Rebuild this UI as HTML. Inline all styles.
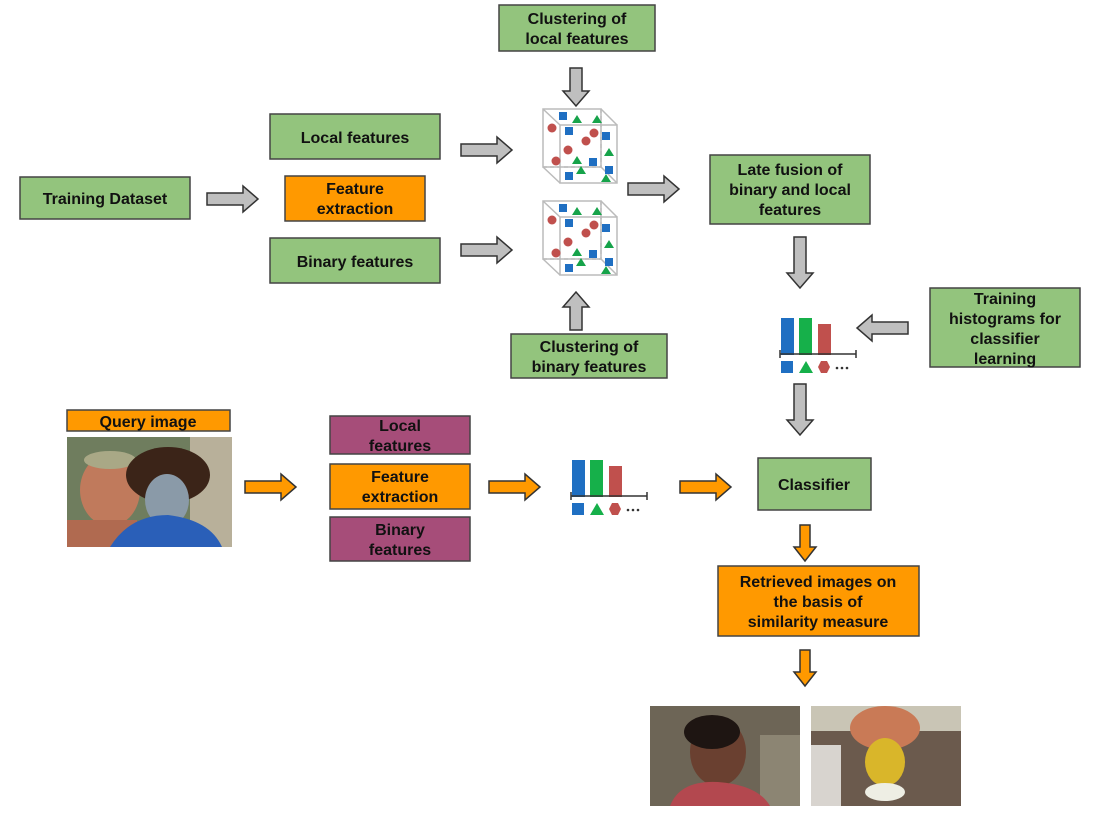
<!DOCTYPE html>
<html><head><meta charset="utf-8"><style>
body{margin:0;background:#fff;}
svg{display:block}
text{font-family:"Liberation Sans",sans-serif;font-weight:bold;font-size:16px;fill:#111;text-anchor:middle}
</style></head><body>
<svg width="1096" height="816" viewBox="0 0 1096 816" xmlns="http://www.w3.org/2000/svg">
<defs>
<g id="cube">
<rect x="543" y="109" width="58" height="58" fill="#fff" stroke="#bbb" stroke-width="1.5"/>
<line x1="601" y1="109" x2="601" y2="167" stroke="#bbb" stroke-width="1.5" stroke-dasharray="4,3"/>
<line x1="543" y1="167" x2="601" y2="167" stroke="#bbb" stroke-width="1.5" stroke-dasharray="4,3"/>
<rect x="560" y="125" width="57" height="58" fill="none" stroke="#bbb" stroke-width="1.5"/>
<path d="M543 109L560 125M601 109L617 125M543 167L560 183M601 167L617 183" stroke="#bbb" stroke-width="1.5"/>
<g fill="#1f6fc2"><rect x="559" y="112" width="8" height="8"/><rect x="565" y="127" width="8" height="8"/><rect x="602" y="132" width="8" height="8"/><rect x="589" y="158" width="8" height="8"/><rect x="565" y="172" width="8" height="8"/><rect x="605" y="166" width="8" height="8"/></g>
<g fill="#16a34a"><path d="M577 115l5 8h-10z"/><path d="M597 115l5 8h-10z"/><path d="M609 148l5 8h-10z"/><path d="M577 156l5 8h-10z"/><path d="M581 166l5 8h-10z"/><path d="M606 174l5 8h-10z"/></g>
<g fill="#c0504d"><circle cx="552" cy="128" r="4.5"/><circle cx="594" cy="133" r="4.5"/><circle cx="586" cy="141" r="4.5"/><circle cx="568" cy="150" r="4.5"/><circle cx="556" cy="161" r="4.5"/></g>
</g>
<g id="hist">
<rect x="572" y="460" width="13" height="37" fill="#1f6fc2"/>
<rect x="590" y="460" width="13" height="37" fill="#16b04a"/>
<rect x="609" y="466" width="13" height="31" fill="#c0504d"/>
<line x1="571" y1="496" x2="647" y2="496" stroke="#333" stroke-width="1.5"/>
<line x1="571" y1="492" x2="571" y2="500" stroke="#333" stroke-width="1.5"/>
<line x1="647" y1="492" x2="647" y2="500" stroke="#333" stroke-width="1.5"/>
<rect x="572" y="503" width="12" height="12" fill="#1f6fc2"/>
<path d="M597 503l7 12h-14z" fill="#16b04a"/>
<path d="M612 503h6l3 6l-3 6h-6l-3-6z" fill="#c0504d"/>
<circle cx="628" cy="510" r="1.3" fill="#333"/><circle cx="633" cy="510" r="1.3" fill="#333"/><circle cx="638" cy="510" r="1.3" fill="#333"/>
</g>
<path id="ar" d="M0 -6H36V-13L51 0L36 13V6H0Z" stroke="#333" stroke-width="1.5"/>
<path id="ars" d="M0 -6H23V-13L38 0L23 13V6H0Z" stroke="#333" stroke-width="1.5"/>
<path id="aro" d="M0 -5H22V-11L36 0L22 11V5H0Z" stroke="#333" stroke-width="1.5"/>
</defs>

<g stroke="#444" stroke-width="1.5">
<rect x="499" y="5" width="156" height="46" fill="#93c47d"/>
<rect x="270" y="114" width="170" height="45" fill="#93c47d"/>
<rect x="285" y="176" width="140" height="45" fill="#ff9900"/>
<rect x="270" y="238" width="170" height="45" fill="#93c47d"/>
<rect x="20" y="177" width="170" height="42" fill="#93c47d"/>
<rect x="710" y="155" width="160" height="69" fill="#93c47d"/>
<rect x="930" y="288" width="150" height="79" fill="#93c47d"/>
<rect x="511" y="334" width="156" height="44" fill="#93c47d"/>
<rect x="67" y="410" width="163" height="21" fill="#ff9900"/>
<rect x="330" y="416" width="140" height="38" fill="#a64d79"/>
<rect x="330" y="464" width="140" height="45" fill="#ff9900"/>
<rect x="330" y="517" width="140" height="44" fill="#a64d79"/>
<rect x="758" y="458" width="113" height="52" fill="#93c47d"/>
<rect x="718" y="566" width="201" height="70" fill="#ff9900"/>
</g>
<text x="577" y="24">Clustering of</text><text x="577" y="44">local features</text>
<text x="355" y="143">Local features</text>
<text x="355" y="194">Feature</text><text x="355" y="214">extraction</text>
<text x="355" y="267">Binary features</text>
<text x="105" y="204">Training Dataset</text>
<text x="790" y="175">Late fusion of</text><text x="790" y="195">binary and local</text><text x="790" y="215">features</text>
<text x="1005" y="304">Training</text><text x="1005" y="324">histograms for</text><text x="1005" y="344">classifier</text><text x="1005" y="364">learning</text>
<text x="589" y="352">Clustering of</text><text x="589" y="372">binary features</text>
<text x="148" y="427">Query image</text>
<text x="400" y="431">Local</text><text x="400" y="451">features</text>
<text x="400" y="482">Feature</text><text x="400" y="502">extraction</text>
<text x="400" y="535">Binary</text><text x="400" y="555">features</text>
<text x="814" y="490">Classifier</text>
<text x="818" y="587">Retrieved images on</text><text x="818" y="607">the basis of</text><text x="818" y="627">similarity measure</text>

<use href="#cube"/>
<use href="#cube" transform="translate(0,92)"/>
<use href="#hist"/>
<use href="#hist" transform="translate(209,-142)"/>

<g fill="#bfbfbf">
<use href="#ar" transform="translate(207,199)"/>
<use href="#ar" transform="translate(461,150)"/>
<use href="#ar" transform="translate(461,250)"/>
<use href="#ar" transform="translate(628,189)"/>
<use href="#ars" transform="translate(576,68) rotate(90)"/>
<use href="#ars" transform="translate(576,330) rotate(-90)"/>
<use href="#ar" transform="translate(800,237) rotate(90)"/>
<use href="#ar" transform="translate(800,384) rotate(90)"/>
<use href="#ar" transform="translate(908,328) rotate(180)"/>
</g>
<g fill="#ff9900">
<use href="#ar" transform="translate(245,487)"/>
<use href="#ar" transform="translate(489,487)"/>
<use href="#ar" transform="translate(680,487)"/>
<use href="#aro" transform="translate(805,525) rotate(90)"/>
<use href="#aro" transform="translate(805,650) rotate(90)"/>
</g>

<rect x="67" y="437" width="165" height="110" fill="#6f7d5e"/>
<rect x="190" y="437" width="42" height="110" fill="#b8b09a"/>
<ellipse cx="110" cy="490" rx="30" ry="36" fill="#c07a5c"/>
<rect x="67" y="520" width="70" height="27" fill="#b06a50"/>
<ellipse cx="110" cy="460" rx="26" ry="9" fill="#a9a886"/>
<ellipse cx="168" cy="475" rx="42" ry="28" fill="#3b2418"/>
<ellipse cx="167" cy="500" rx="22" ry="26" fill="#8a9aa8"/>
<path d="M110 547Q130 515 168 515Q210 520 222 547Z" fill="#2a5fb8"/>

<rect x="650" y="706" width="150" height="100" fill="#6d6556"/>
<rect x="760" y="735" width="40" height="71" fill="#8c8573"/>
<ellipse cx="718" cy="752" rx="28" ry="34" fill="#6a4030"/>
<ellipse cx="712" cy="732" rx="28" ry="17" fill="#1e1512"/>
<path d="M670 806Q680 780 718 782Q758 785 770 806Z" fill="#b3484f"/>
<rect x="811" y="706" width="150" height="100" fill="#6b5a4d"/>
<rect x="811" y="706" width="150" height="25" fill="#c9c5b5"/>
<ellipse cx="885" cy="728" rx="35" ry="22" fill="#c97a56"/>
<ellipse cx="885" cy="762" rx="20" ry="24" fill="#d9b62a"/>
<ellipse cx="885" cy="792" rx="20" ry="9" fill="#eeeee4"/>
<rect x="811" y="745" width="30" height="61" fill="#d8d4cf"/>
</svg>
</body></html>
